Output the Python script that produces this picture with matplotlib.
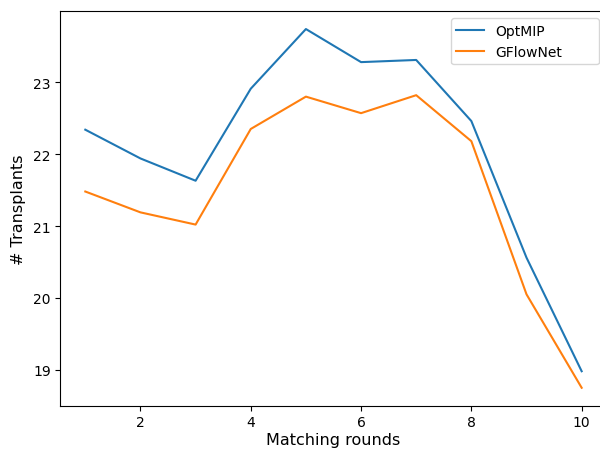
import matplotlib
matplotlib.use("Agg")
import matplotlib.pyplot as plt

rounds = [1, 2, 3, 4, 5, 6, 7, 8, 9, 10]
optmip = [22.34, 21.94, 21.63, 22.91, 23.74, 23.28, 23.31, 22.46, 20.56, 18.98]
gflownet = [21.48, 21.19, 21.02, 22.35, 22.80, 22.57, 22.82, 22.18, 20.05, 18.75]
labels = ["OptMIP", "GFlowNet"]

fig = plt.figure(figsize=(6.0, 4.52), dpi=100)
ax = fig.add_axes([0.1008, 0.1002, 0.91, 0.873])
ax.plot(rounds, optmip, label=labels[0])
ax.plot(rounds, gflownet, label=labels[1])
ax.set_xticks([2, 4, 6, 8, 10])
ax.set_yticks([19, 20, 21, 22, 23])
ax.set_xlabel("Matching rounds", fontsize=11.5, labelpad=2)
ax.set_ylabel("# Transplants", fontsize=11.5, labelpad=5)
ax.legend(loc="upper left", bbox_to_anchor=(0.715, 0.75, 0.271, 0.2315),
          mode="expand", borderaxespad=0)
fig.savefig("out.png", dpi=100)
